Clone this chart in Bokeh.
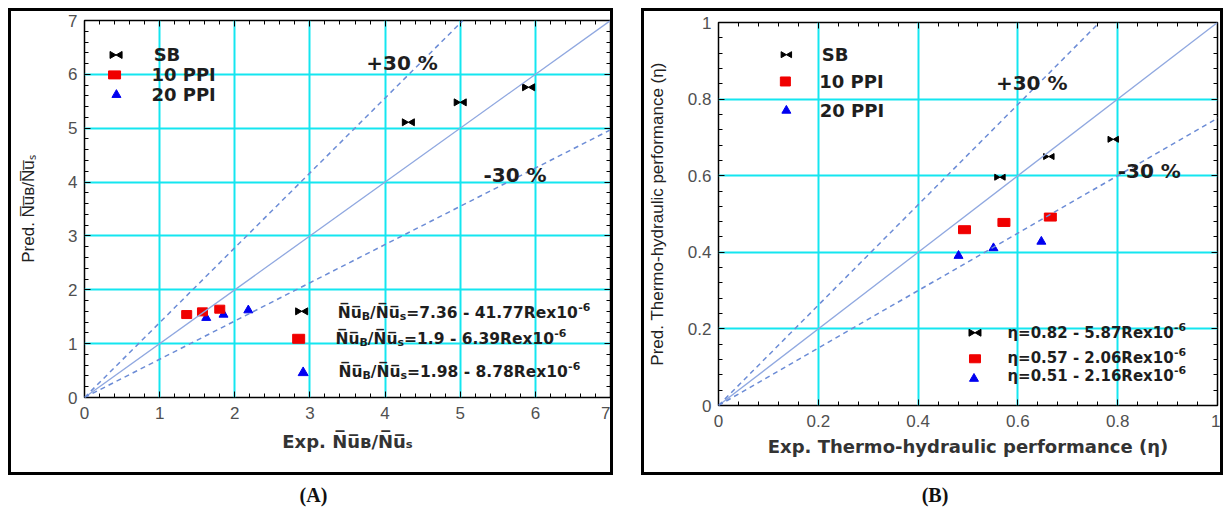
import math
from bokeh.plotting import figure
from bokeh.models import (ColumnDataSource, Slope, Label, SingleIntervalTicker,
                          LinearAxis, Range1d, Div, Spacer, CustomJSTickFormatter)
from bokeh.layouts import row, column
from bokeh.transform import dodge
from bokeh.embed import file_html
from bokeh.resources import INLINE

# ---------------- data: panel (A) Nu ratio ----------------
a_sb_x = [4.31, 5.00, 5.91]
a_sb_y = [5.11, 5.48, 5.76]
a_p10_x = [1.36, 1.57, 1.80]
a_p10_y = [1.54, 1.59, 1.64]
a_p20_x = [1.62, 1.85, 2.18]
a_p20_y = [1.48, 1.54, 1.62]
a_eqs = ["=7.36 - 41.77Rex10", "=1.9 - 6.39Rex10", "=1.98 - 8.78Rex10"]

# ---------------- data: panel (B) thermo-hydraulic performance ----------------
b_sb_x = [0.564, 0.662, 0.791]
b_sb_y = [0.596, 0.650, 0.695]
b_p10_x = [0.493, 0.572, 0.665]
b_p10_y = [0.459, 0.478, 0.492]
b_p20_x = [0.481, 0.551, 0.647]
b_p20_y = [0.391, 0.411, 0.428]
b_eqs = ["\u03b7=0.82 - 5.87Rex10", "\u03b7=0.57 - 2.06Rex10", "\u03b7=0.51 - 2.16Rex10"]

series_names = ["SB", "10 PPI", "20 PPI"]
band_labels = ["+30 %", "-30 %"]
a_band = [1.39, 0.71]      # drawn slopes of the two dashed bands
b_band = [1.31, 0.75]

OL = "\u0305"
NU = "N" + OL + "u" + OL
a_xlabel = "Exp. " + NU + "\u0299/" + NU + "\u209b"
a_ylabel = "Pred. " + NU + "\u0299/" + NU + "\u209b"
b_xlabel = "Exp. Thermo-hydraulic performance (\u03b7)"
b_ylabel = "Pred. Thermo-hydraulic performance (\u03b7)"

# approximate advance widths (1/1000 em) of DejaVu Sans Bold
DJB = {' ': 348, '%': 1002, '(': 457, ')': 457, '+': 838, '-': 415, '.': 380, '/': 365,
       '=': 838, 'B': 762, 'E': 683, 'N': 837, 'P': 733, 'I': 372, 'R': 770, 'S': 720,
       'T': 682, 'a': 675, 'c': 593, 'd': 716, 'e': 678, 'f': 435, 'h': 712, 'i': 343,
       'l': 343, 'm': 1038, 'n': 712, 'o': 687, 'p': 716, 'r': 493, 's': 595, 'u': 712,
       'x': 663, 'y': 652, '\u03b7': 712}
for d in "0123456789":
    DJB[d] = 696


def tw(s, size, table):
    return sum(table.get(ch, 600) for ch in s if ch != OL) * size / 1000.0


GRID = "#14e6f0"
LINE = "#90a8e0"
DASH = "#6c8cd6"
TXT = "#1e1e1e"


def make_fig(w, h, xr, yr, interval, mb):
    p = figure(width=w, height=h, x_range=Range1d(*xr), y_range=Range1d(*yr),
               output_backend="svg", toolbar_location=None,
               min_border_left=mb[0], min_border_right=mb[1],
               min_border_top=mb[2], min_border_bottom=mb[3])
    p.styles = {"border": "3px solid black"}
    p.background_fill_color = "white"
    p.border_fill_color = "white"
    p.outline_line_color = "black"
    p.outline_line_width = 1.5
    fmt = CustomJSTickFormatter(code="return Number(tick.toFixed(2)).toString();")
    xa, ya = p.below[0], p.left[0]
    for ax in (xa, ya):
        ax.ticker = SingleIntervalTicker(interval=interval, num_minor_ticks=5)
        ax.formatter = fmt
        ax.axis_line_color = None
        ax.major_tick_in = 6
        ax.major_tick_out = 0
        ax.minor_tick_in = 4
        ax.minor_tick_out = 0
        ax.major_tick_line_color = "black"
        ax.minor_tick_line_color = "black"
        ax.major_label_text_font = "Liberation Sans"
        ax.major_label_text_font_size = "17px"
        ax.major_label_text_color = "#505050"
    xa.major_label_standoff = 9
    ya.major_label_standoff = 7
    for loc in ("above", "right"):
        ax = LinearAxis(ticker=SingleIntervalTicker(interval=interval, num_minor_ticks=5),
                        axis_line_color=None, major_tick_in=6, major_tick_out=0,
                        minor_tick_in=4, minor_tick_out=0,
                        major_label_text_font_size="0px", major_label_text_color=None,
                        major_label_standoff=0)
        p.add_layout(ax, loc)
    p.xgrid.ticker = xa.ticker
    p.ygrid.ticker = ya.ticker
    for g in (p.xgrid[0], p.ygrid[0]):
        g.grid_line_color = GRID
        g.grid_line_width = 2
        g.minor_grid_line_color = None
    return p, xa, ya


def axis_titles(xa, ya, xl, yl, xstand, ystand):
    xa.axis_label = xl
    xa.axis_label_text_font = "DejaVu Sans"
    xa.axis_label_text_font_style = "bold"
    xa.axis_label_text_font_size = "18px"
    xa.axis_label_text_color = "#333333"
    xa.axis_label_standoff = xstand
    ya.axis_label = yl
    ya.axis_label_text_font = "Liberation Sans"
    ya.axis_label_text_font_style = "normal"
    ya.axis_label_text_font_size = "17px"
    ya.axis_label_text_color = "#222222"
    ya.axis_label_standoff = ystand


def lab(p, x, y, text, size, font="DejaVu Sans", style="bold", color=TXT,
        xo=0, yo=0, align="left"):
    p.add_layout(Label(x=x, y=y, x_offset=xo, y_offset=yo, text=text,
                       text_font=font, text_font_size=f"{size}px",
                       text_font_style=style, text_color=color,
                       text_baseline="middle", text_align=align))


def compose(p, x, y, pieces, font, style, table, color=TXT):
    off = 0.0
    for text, size, shift in pieces:
        lab(p, x, y, text, size, font, style, color, xo=off, yo=shift)
        off += tw(text, size, table)


def bowtie(p, src, size, dx):
    p.scatter(x=dodge("x", -dx, range=p.x_range), y="y", source=src, marker="triangle",
              size=size, angle=-math.pi / 2, color="black")
    p.scatter(x=dodge("x", dx, range=p.x_range), y="y", source=src, marker="triangle",
              size=size, angle=math.pi / 2, color="black")


def squares(p, src, w, h):
    p.rect(x="x", y="y", width=w, height=h, width_units="screen", height_units="screen",
           source=src, color="#f00000")


def tris(p, src, size):
    p.scatter(x="x", y="y", source=src, marker="triangle", size=size, color="#0000f0")


def bands(p, grads):
    p.add_layout(Slope(gradient=1, y_intercept=0, line_color=LINE, line_width=1.3))
    for g in grads:
        p.add_layout(Slope(gradient=g, y_intercept=0, line_color=DASH, line_width=1.5,
                           line_dash="5 4"))


# ================= panel A =================
pa, pa_x, pa_y = make_fig(605, 467, (0, 7), (0, 7), 1, (73, 6, 9, 81))
axis_titles(pa_x, pa_y, a_xlabel, a_ylabel, 9, 27)
bands(pa, a_band)
pxa = 526 / 7.0
tris(pa, ColumnDataSource(dict(x=a_p20_x, y=a_p20_y)), 9)
squares(pa, ColumnDataSource(dict(x=a_p10_x, y=a_p10_y)), 10, 8)
bowtie(pa, ColumnDataSource(dict(x=a_sb_x, y=a_sb_y)), 7, 4.0 / pxa)

# legend (top-left)
leg_a = dict(kx=[0.42, 0.40, 0.425], ky=[6.36, 5.99, 5.62], tx=[0.92, 0.89, 0.89])
bowtie(pa, ColumnDataSource(dict(x=leg_a["kx"][:1], y=leg_a["ky"][:1])), 7, 4.0 / pxa)
squares(pa, ColumnDataSource(dict(x=leg_a["kx"][1:2], y=leg_a["ky"][1:2])), 12, 8)
tris(pa, ColumnDataSource(dict(x=leg_a["kx"][2:], y=leg_a["ky"][2:])), 9)
for name, tx, ty in zip(series_names, leg_a["tx"], leg_a["ky"]):
    lab(pa, tx, ty, name, 18)

lab(pa, 3.75, 6.21, band_labels[0], 20)
lab(pa, 5.31, 4.13, band_labels[1], 20)

# correlation keys (lower right)
eq_a = dict(kx=[2.89, 2.85, 2.91], ky=[1.60, 1.09, 0.46], tx=[3.37, 3.34, 3.38],
            ty=[1.57, 1.09, 0.48])
bowtie(pa, ColumnDataSource(dict(x=eq_a["kx"][:1], y=eq_a["ky"][:1])), 7, 4.0 / pxa)
squares(pa, ColumnDataSource(dict(x=eq_a["kx"][1:2], y=eq_a["ky"][1:2])), 12, 9)
tris(pa, ColumnDataSource(dict(x=eq_a["kx"][2:], y=eq_a["ky"][2:])), 10)
for eq, tx, ty in zip(a_eqs, eq_a["tx"], eq_a["ty"]):
    compose(pa, tx, ty, [(NU, 15.5, 0), ("B", 11, -4), ("/" + NU, 15.5, 0), ("s", 11, -4),
                         (eq, 15.5, 0), ("-6", 11, 6)], "DejaVu Sans", "bold", DJB)

# ================= panel B =================
pb, pb_x, pb_y = make_fig(582, 467, (0, 1), (0, 1), 0.2, (71, 9, 11, 73))
axis_titles(pb_x, pb_y, b_xlabel, b_ylabel, 6, 18)
bands(pb, b_band)
pxb = 502.0
tris(pb, ColumnDataSource(dict(x=b_p20_x, y=b_p20_y)), 9)
squares(pb, ColumnDataSource(dict(x=b_p10_x, y=b_p10_y)), 12, 8)
bowtie(pb, ColumnDataSource(dict(x=b_sb_x, y=b_sb_y)), 6, 3.5 / pxb)

leg_b = dict(kx=[0.136, 0.134, 0.136], ky=[0.916, 0.846, 0.770], tx=[0.207, 0.202, 0.203])
bowtie(pb, ColumnDataSource(dict(x=leg_b["kx"][:1], y=leg_b["ky"][:1])), 6, 3.5 / pxb)
squares(pb, ColumnDataSource(dict(x=leg_b["kx"][1:2], y=leg_b["ky"][1:2])), 10, 9)
tris(pb, ColumnDataSource(dict(x=leg_b["kx"][2:], y=leg_b["ky"][2:])), 9)
for name, tx, ty in zip(series_names, leg_b["tx"], leg_b["ky"]):
    lab(pb, tx, ty, name, 18)

lab(pb, 0.556, 0.842, band_labels[0], 20)
lab(pb, 0.800, 0.612, band_labels[1], 20)

eq_b = dict(kx=[0.514, 0.514, 0.512], ky=[0.19, 0.122, 0.07], tx=[0.579, 0.579, 0.579],
            ty=[0.19, 0.123, 0.076])
bowtie(pb, ColumnDataSource(dict(x=eq_b["kx"][:1], y=eq_b["ky"][:1])), 7, 4.0 / pxb)
squares(pb, ColumnDataSource(dict(x=eq_b["kx"][1:2], y=eq_b["ky"][1:2])), 11, 8)
tris(pb, ColumnDataSource(dict(x=eq_b["kx"][2:], y=eq_b["ky"][2:])), 9)
for eq, tx, ty in zip(b_eqs, eq_b["tx"], eq_b["ty"]):
    compose(pb, tx, ty, [(eq, 15, 0), ("-6", 11, 6)], "DejaVu Sans", "bold", DJB)


def caption(txt, w):
    return Div(text=(f'<div style="width:{w}px;text-align:center;'
                     f'font-family:\'Liberation Serif\',serif;font-weight:bold;'
                     f'font-size:20px;padding-top:6px;color:#111">{txt}</div>'),
               width=w, height=30, margin=(0, 0, 0, 0))


layout = column(
    Spacer(width=8, height=8, margin=(0, 0, 0, 0)),
    row(Spacer(width=8, height=8, margin=(0, 0, 0, 0)),
        column(pa, caption("(A)", 611), spacing=0),
        Spacer(width=22, height=8, margin=(0, 0, 0, 0)),
        column(pb, caption("(B)", 588), spacing=0),
        spacing=0),
    spacing=0)
open("out.html", "w").write(file_html(layout, INLINE))
